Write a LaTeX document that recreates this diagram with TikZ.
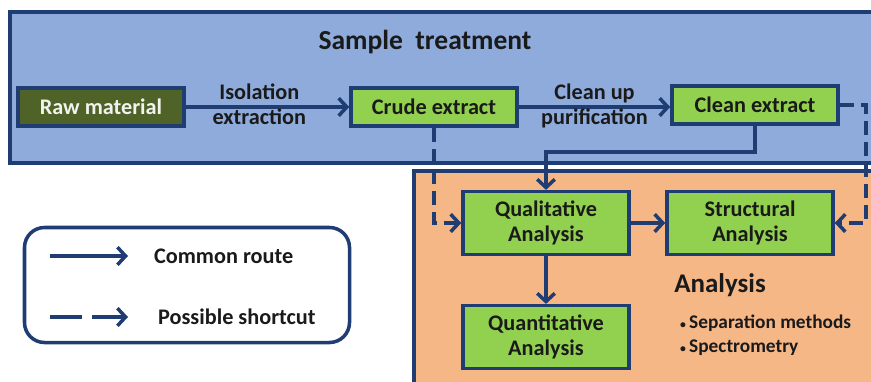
\documentclass[tikz,border=0pt]{standalone}
\usepackage{fontspec}
\setmainfont{Carlito}
\usepackage{tikz}
\usetikzlibrary{arrows.meta,positioning}
\definecolor{panelblue}{HTML}{8EABDB}
\definecolor{panelorange}{HTML}{F6B786}
\definecolor{navy}{HTML}{1F3D72}
\definecolor{leafgreen}{HTML}{92D050}
\definecolor{olive}{HTML}{4F6228}
\definecolor{textdark}{HTML}{1A1A1A}

\begin{document}
\begin{tikzpicture}[
  x=0.03cm,y=-0.03cm,
  box/.style={draw=navy,fill=leafgreen,line width=3pt,
              text=textdark,font=\bfseries\fontsize{19}{22}\selectfont,align=center,
              minimum width=4.98cm,minimum height=1.15cm,inner sep=0pt},
  bigbox/.style={box,minimum height=1.88cm},
  panel/.style={draw=navy,line width=3pt},
  lbl/.style={text=textdark,font=\bfseries\fontsize{19}{22}\selectfont,align=center},
  route/.style={draw=navy,line width=3pt,
              -{Straight Barb[length=7pt,width=15pt,line width=3pt]}},
  shortcut/.style={route,dash pattern=on 12pt off 6pt},
  legendbox/.style={draw=navy,line width=3pt,rounded corners=0.6cm,
              minimum width=9.75cm,minimum height=3.45cm}
]
  \useasboundingbox (0,0) rectangle (871,381);
  \clip (0,0) rectangle (871,381);

  % panels
  \path[panel,fill=panelblue] (10,12) rectangle (900,163);
  \path[panel,fill=panelorange] (414,171) rectangle (900,400);
  \node[lbl,font=\bfseries\fontsize{23.5}{26}\selectfont] (sample) at (425,42) {Sample~~treatment};

  % sample treatment
  \node[box,fill=olive,text=white!92!olive] (raw) at (101,107) {Raw material};
  \node[box] (crude) at (434,107) {Crude extract};
  \node[box] (clean) at (755,105) {Clean extract};

  % analysis
  \node[bigbox] (qual) at (546,223) {Qualitative\\Analysis};
  \node[bigbox] (struct) at (750,223) {Structural\\Analysis};
  \node[bigbox] (quant) at (546,337) {Quantitative\\Analysis};
  \node[lbl,font=\bfseries\fontsize{23}{26}\selectfont] (analysis) at (720,285) {Analysis};
  \node[lbl,align=left,anchor=west,font=\bfseries\fontsize{16.5}{20.5}\selectfont] (methods) at (676,335)
    {{\fontsize{10}{10}\selectfont\textbullet}\,Separation methods\\{\fontsize{10}{10}\selectfont\textbullet}\,Spectrometry};

  % connectors
  \coordinate (cleanbend) at (755,152);
  \coordinate (cleanout) at (866,105);
  \draw[route] (raw) -- node[lbl,pos=0.45,above,inner sep=5pt] {Isolation}
                        node[lbl,pos=0.45,below,inner sep=0pt] {extraction} (crude);
  \draw[route] (crude) -- node[lbl,above,inner sep=2pt] {Clean up}
                          node[lbl,below,inner sep=0pt] {purification} (crude -| clean.west);
  \draw[route] (clean.south) -- (cleanbend) -| (qual.north);
  \draw[shortcut] (crude.south) |- (qual.west);
  \draw[shortcut] (clean.east) -- (cleanout) |- (struct.east);
  \draw[route] (qual) -- (struct);
  \draw[route] (qual) -- (quant);

  % legend
  \node[legendbox] (legend) at (187,285) {};
  \coordinate (routeA) at (50,256);
  \coordinate (routeB) at (128,256);
  \coordinate (cutA) at (50,317);
  \coordinate (cutB) at (128,317);
  \node[lbl,anchor=west] (common) at (150,256) {Common route};
  \node[lbl,anchor=west] (possible) at (154,317) {Possible shortcut};
  \draw[route] (routeA) -- (routeB);
  \draw[route,dash pattern=on 27pt off 9pt] (cutA) -- (cutB);
\end{tikzpicture}
\end{document}
